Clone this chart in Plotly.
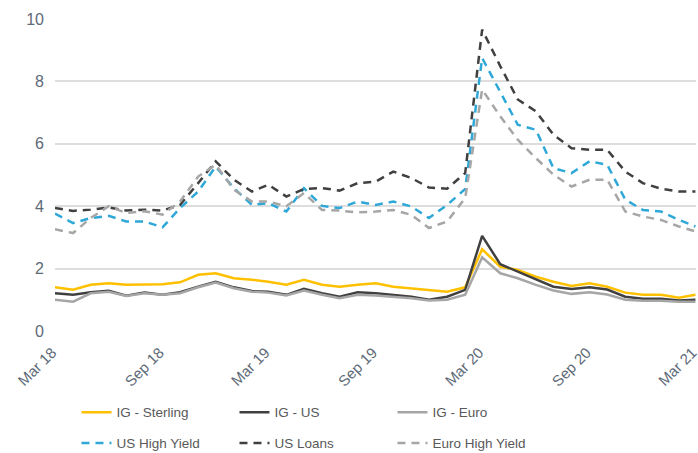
import plotly.graph_objects as go
import pandas as pd

months = pd.date_range("2018-03-01", "2021-03-01", freq="MS")

ig_sterling = [1.40, 1.32, 1.48, 1.53, 1.48, 1.48, 1.50, 1.56, 1.80, 1.85, 1.69, 1.64, 1.58,
               1.48, 1.64, 1.48, 1.42, 1.48, 1.53, 1.42, 1.37, 1.32, 1.26, 1.40,
               2.62, 2.06, 1.96, 1.74, 1.58, 1.44, 1.53, 1.42, 1.23, 1.16, 1.16, 1.07, 1.16]
ig_us = [1.21, 1.16, 1.24, 1.29, 1.13, 1.23, 1.16, 1.24, 1.42, 1.58, 1.40, 1.28, 1.26,
         1.16, 1.35, 1.21, 1.10, 1.24, 1.21, 1.16, 1.10, 1.00, 1.10, 1.32,
         3.05, 2.14, 1.90, 1.64, 1.42, 1.35, 1.40, 1.33, 1.10, 1.03, 1.03, 0.98, 1.00]
ig_euro = [1.00, 0.94, 1.21, 1.26, 1.12, 1.21, 1.16, 1.21, 1.40, 1.55, 1.37, 1.26, 1.23,
           1.14, 1.30, 1.16, 1.05, 1.16, 1.14, 1.10, 1.05, 0.98, 1.00, 1.16,
           2.36, 1.85, 1.69, 1.48, 1.30, 1.19, 1.24, 1.17, 1.00, 0.97, 0.97, 0.94, 0.94]
us_high_yield = [3.76, 3.46, 3.62, 3.69, 3.51, 3.51, 3.32, 3.94, 4.47, 5.27, 4.58, 4.04, 4.10,
                 3.83, 4.58, 4.01, 3.94, 4.15, 4.04, 4.15, 3.99, 3.62, 4.04, 4.55,
                 8.75, 7.68, 6.61, 6.45, 5.22, 5.06, 5.44, 5.33, 4.21, 3.88, 3.83, 3.56, 3.35]
us_loans = [3.94, 3.85, 3.89, 3.96, 3.86, 3.89, 3.86, 4.04, 4.74, 5.44, 4.85, 4.47, 4.69,
            4.31, 4.55, 4.58, 4.50, 4.74, 4.79, 5.11, 4.90, 4.60, 4.56, 5.06,
            9.66, 8.49, 7.42, 7.04, 6.29, 5.86, 5.81, 5.81, 5.11, 4.74, 4.56, 4.47, 4.47]
euro_high_yield = [3.26, 3.14, 3.62, 4.00, 3.78, 3.84, 3.73, 4.15, 4.95, 5.33, 4.53, 4.15, 4.15,
                   4.00, 4.42, 3.88, 3.86, 3.80, 3.83, 3.88, 3.72, 3.30, 3.51, 4.26,
                   7.74, 6.88, 6.13, 5.54, 5.01, 4.63, 4.85, 4.85, 3.83, 3.67, 3.56, 3.35, 3.19]

y_ticks = [0, 2, 4, 6, 8, 10]
x_ticks = ["2018-03-01", "2018-09-01", "2019-03-01", "2019-09-01", "2020-03-01", "2020-09-01", "2021-03-01"]
x_tick_labels = ["Mar 18", "Sep 18", "Mar 19", "Sep 19", "Mar 20", "Sep 20", "Mar 21"]

FONT = "Liberation Sans Narrow, Arial Narrow, Liberation Sans, Arial, sans-serif"
series = [
    ("IG - Sterling", ig_sterling, "#FFC000", "solid", "legend"),
    ("IG - US", ig_us, "#404040", "solid", "legend"),
    ("IG - Euro", ig_euro, "#A6A6A6", "solid", "legend"),
    ("US High Yield", us_high_yield, "#2FA8D8", "8px,6px", "legend2"),
    ("US Loans", us_loans, "#404040", "8px,6px", "legend2"),
    ("Euro High Yield", euro_high_yield, "#A6A6A6", "8px,6px", "legend2"),
]

fig = go.Figure()
for name, vals, color, dash, leg in series:
    fig.add_trace(go.Scatter(x=months, y=vals, name=name, mode="lines",
                             line=dict(color=color, width=2.5, dash=dash),
                             legend=leg))

leg_common = dict(orientation="h", x=0.0335, xanchor="left", yanchor="middle",
                  entrywidth=113, entrywidthmode="pixels",
                  font=dict(size=13.5, color="#595959"), bgcolor="rgba(0,0,0,0)")
fig.update_layout(
    width=698, height=453,
    margin=dict(l=55, r=2, t=19, b=122, autoexpand=False),
    paper_bgcolor="white", plot_bgcolor="white",
    font=dict(family=FONT, size=15, color="#5E6A78"),
    showlegend=True,
    legend=dict(y=-0.261, **leg_common),
    legend2=dict(y=-0.36, **leg_common),
)
fig.update_xaxes(range=["2018-03-01", "2021-03-02"], tickvals=x_ticks, ticktext=x_tick_labels,
                 tickangle=-45, showgrid=False, zeroline=False, showline=False, ticks="",
                 tickfont=dict(size=15, color="#5E6A78"), ticklabelstandoff=9,
                 ticklabelshift=-3, ticklabeloverflow="allow", automargin=False)
fig.update_yaxes(range=[0, 10], tickvals=y_ticks, showgrid=True, gridcolor="#DDDDDD", gridwidth=2,
                 zeroline=False, showline=False, ticks="",
                 tickfont=dict(size=16, color="#5E6A78"), ticklabelstandoff=10, automargin=False)

fig.write_html("out.html", config={"displayModeBar": False},
               post_script="document.body.style.margin='0';document.body.style.overflow='hidden';")
